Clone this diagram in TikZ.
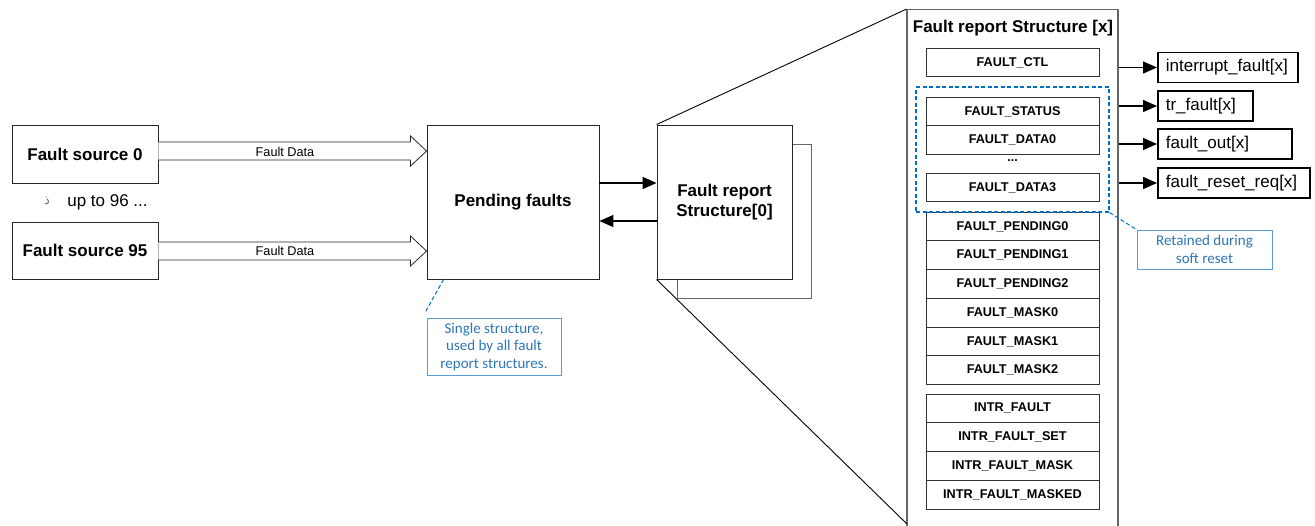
\documentclass[tikz,border=0pt]{standalone}
\usepackage{fontspec}
\setmainfont{Liberation Sans}
\newfontfamily\calib{Carlito}
\newfontfamily\arabicfont[Script=Arabic]{DejaVu Sans}
\TeXXeTstate=1
\usetikzlibrary{arrows.meta,calc}
\definecolor{cblue}{RGB}{0,112,192}
\definecolor{ctext}{RGB}{46,117,182}
\definecolor{cborder}{RGB}{91,155,213}
\tikzset{
 bigfont/.style={font=\fontsize{17}{20.4}\selectfont\bfseries},
 blk/.style={draw=black!85, line width=0.9pt, fill=white, inner sep=0pt, align=center},
 reg/.style={draw=black!80, line width=0.8pt, minimum width=173pt, minimum height=28.75pt, inner sep=0pt, font=\fontsize{12.7}{14}\selectfont\bfseries},
 outbox/.style={draw=black, line width=1.7pt, anchor=west, inner xsep=8pt, inner ysep=0pt, minimum height=30pt, align=left, font=\fontsize{17}{20}\selectfont},
 arr/.style={line width=1.5pt, -{Triangle[length=14pt,width=12pt]}},
 callout/.style={draw=cborder, line width=0.8pt, text=ctext, font=\calib\fontsize{15}{17.5}\selectfont, align=center, inner sep=0pt},
 lead/.style={draw=cblue, dash pattern=on 4pt off 2.5pt, line width=1pt},
 fat/.style={draw=black!85, line width=0.8pt, fill=white},
}
\begin{document}
\begin{tikzpicture}[x=1pt,y=-1pt]
\useasboundingbox (0,0) rectangle (1315,525);

% sources
\node[blk, bigfont, minimum width=146pt, minimum height=58pt] (src0) at (85,154) {Fault source 0};
\node[blk, bigfont, minimum width=146pt, minimum height=57pt] (src95) at (85,250.5) {Fault source 95};
\node[font=\fontsize{17}{20}\selectfont, anchor=center] (upto) at (107.5,202) {up to 96 ...};
\node[text=black!55, font=\arabicfont\fontsize{13}{14}\selectfont, inner sep=0pt] (glyph) at (47,201) {\beginR ذ\endR};

% pending faults
\node[blk, bigfont, minimum width=172pt, minimum height=154pt] (pend) at (513,202) {Pending faults};

% fat arrows
\coordinate (c0) at ($(src0.east)+(0,-3)$);
\coordinate (c1) at ($(src95.east)+(0,0.5)$);
\foreach \c in {c0,c1}{
  \draw[fat] ($(\c)+(0,-9)$) -- ($(pend.west|-\c)+(-16,-9)$) -- ($(pend.west|-\c)+(-16,-15)$)
    -- (pend.west|-\c) -- ($(pend.west|-\c)+(-16,15)$) -- ($(pend.west|-\c)+(-16,9)$) -- ($(\c)+(0,9)$);
}
\node[font=\fontsize{12.7}{14}\selectfont] (fd0) at (285,152) {Fault Data};
\node[font=\fontsize{12.7}{14}\selectfont] (fd1) at (285,251) {Fault Data};

% fault report structure [0]
\node[draw=black!60, line width=1pt, minimum width=134pt, minimum height=154pt] (shadow) at (744,221) {};
\node[blk, bigfont, minimum width=135pt, minimum height=154pt] (frs0) at (724.5,202) {Fault report\\Structure[0]};

\draw[arr] ($(pend.east)+(0,-19)$) -- ($(frs0.west)+(0,-19)$);
\draw[arr] ($(frs0.west)+(0,19)$) -- ($(pend.east)+(0,19)$);

% big structure
\node[draw=black!60, line width=1.2pt, minimum width=211pt, minimum height=530pt, inner sep=0pt] (struct) at (1012.5,274.75) {};
\node[bigfont] (title) at (1013,28) {Fault report Structure [x]};
\coordinate (zb) at (907,524);
\draw[line width=0.9pt] (frs0.north west) -- (struct.north west);
\draw[line width=0.9pt] (frs0.south west) -- (zb);

% registers
\node[reg] (ctl) at (1012.5,62.5) {FAULT\_CTL};
\node[reg] (st) at (1012.5,111.5) {FAULT\_STATUS};
\node[reg] (d0) at (1012.5,140.25) {FAULT\_DATA0};
\node[font=\fontsize{12.5}{14}\selectfont\bfseries] (dots) at (1012.5,161) {...};
\node[reg] (d3) at (1012.5,187.5) {FAULT\_DATA3};
\foreach \t [count=\i from 0] in {FAULT\_PENDING0,FAULT\_PENDING1,FAULT\_PENDING2,FAULT\_MASK0,FAULT\_MASK1,FAULT\_MASK2}{
  \node[reg] (p\i) at (1012.5,226.375+28.75*\i) {\t};
}
\foreach \t [count=\i from 0] in {INTR\_FAULT,INTR\_FAULT\_SET,INTR\_FAULT\_MASK,INTR\_FAULT\_MASKED}{
  \node[reg] (r\i) at (1012.5,408.375+28.75*\i) {\t};
}

% retained box
\node[draw=cblue, dash pattern=on 4pt off 2.5pt, line width=1.3pt, minimum width=193pt, minimum height=125pt, inner sep=0pt] (retx) at (1012.5,149.5) {};
\node[callout, minimum width=135pt, minimum height=39pt] (ret) at (1204.5,249.5) {Retained during\\soft reset};
\draw[lead] (retx.south east) -- (ret.north west);

% single structure callout
\node[callout, minimum width=134pt, minimum height=57pt] (sing) at (494,346.5) {Single structure,\\used by all fault\\report structures.};
\draw[lead] ($(pend.south west)+(17,0)$) -- ($(sing.north west)+(-1,-6)$);

% outputs
\node[outbox, text width=124pt] (o1) at (1157,67.5) {interrupt\_fault[x]};
\node[outbox, text width=79pt] (o2) at (1157,106) {tr\_fault[x]};
\node[outbox, text width=118pt] (o3) at (1157,144) {fault\_out[x]};
\node[outbox, text width=136pt] (o4) at (1157,183) {fault\_reset\_req[x]};
\foreach \o in {o1,o2,o3,o4}{
  \draw[arr] (struct.east|-\o.west) -- (\o.west);
}
\end{tikzpicture}
\end{document}
